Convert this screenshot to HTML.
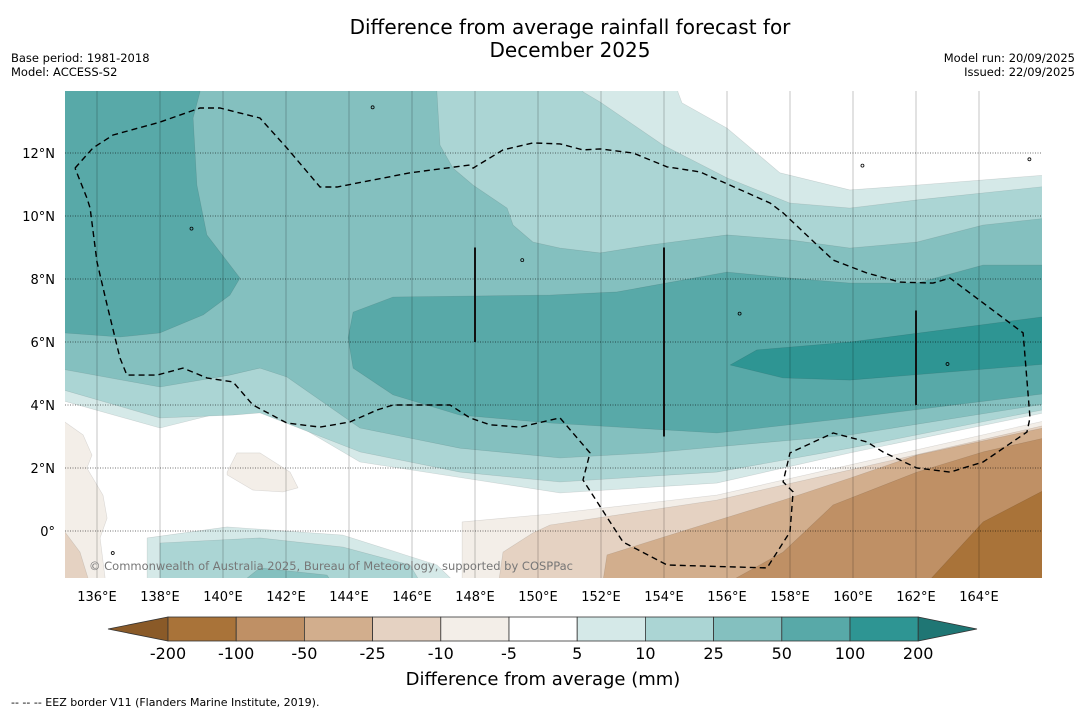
<!DOCTYPE html>
<html><head><meta charset="utf-8">
<style>
html,body{margin:0;padding:0;background:#fff;}
body{width:1085px;height:713px;overflow:hidden;font-family:"DejaVu Sans","Liberation Sans",sans-serif;}
svg text{font-family:"DejaVu Sans","Liberation Sans",sans-serif;}
</style></head>
<body>
<svg id="chart" width="1085" height="713" viewBox="0 0 1085 713" xmlns="http://www.w3.org/2000/svg">
<defs><clipPath id="mapclip"><rect x="65" y="91" width="977" height="487"/></clipPath></defs>
<text x="570" y="34" font-size="20" text-anchor="middle" fill="#000">Difference from average rainfall forecast for</text>
<text x="570" y="57" font-size="20" text-anchor="middle" fill="#000">December 2025</text>
<text x="11" y="62" font-size="11.5" fill="#000">Base period: 1981-2018</text>
<text x="11" y="76" font-size="11.5" fill="#000">Model: ACCESS-S2</text>
<text x="1075" y="62" font-size="11.5" text-anchor="end" fill="#000">Model run: 20/09/2025</text>
<text x="1075" y="76" font-size="11.5" text-anchor="end" fill="#000">Issued: 22/09/2025</text>
<g id="map" clip-path="url(#mapclip)"></g>
<g id="grid" clip-path="url(#mapclip)"></g>
<g id="overlay" clip-path="url(#mapclip)"></g>
<g id="axes"></g>
<text x="89" y="570" font-size="11.3" fill="#777" textLength="484" lengthAdjust="spacingAndGlyphs">© Commonwealth of Australia 2025, Bureau of Meteorology, supported by COSPPac</text>
<g id="cbar"></g>
<text x="543" y="685" font-size="18" text-anchor="middle" fill="#000">Difference from average (mm)</text>
<text x="11" y="706" font-size="11" fill="#000">--  --  -- EEZ border V11 (Flanders Marine Institute, 2019).</text>
</svg>
<script>
// ---- data ----
const lonTicks = [136,138,140,142,144,146,148,150,152,154,156,158,160,162,164];
const latTicks = [0,2,4,6,8,10,12];
const levelLabels = ["-200","-100","-50","-25","-10","-5","5","10","25","50","100","200"];
const levelColors = ["#a97339","#bf9065","#d2ae8d","#e5d2c2","#f3eee8","#ffffff","#d5e9e8","#abd5d4","#84c0bf","#58a9a8","#2e9593"];
const lowColor = "#8a5a28";
const highColor = "#1f7674";

const c5 = [[134.5,14.5],[154.44,14.5],[154.44,13.94],[154.57,13.59],[156,12.79],[157.68,11.37],[159.9,10.83],[162.03,10.98],[166.5,11.33],[166.5,3.84],[159.9,2.48],[155.68,1.52],[150.7,1.21],[144.35,2.19],[141.17,4.06],[138,3.27],[134.5,4.25]];
const c10 = [[134.5,14.5],[151.43,14.5],[151.43,13.94],[151.97,13.62],[153.97,12.25],[156,11.21],[158,10.41],[159.9,10.25],[162.03,10.51],[166.5,10.98],[166.5,3.94],[159.9,2.63],[155.68,1.87],[150.7,1.56],[147.52,1.87],[144.35,2.51],[141.17,3.75],[140.32,3.68],[138,3.59],[134.5,4.6]];
const c25 = [[134.5,14.5],[146.79,14.5],[146.79,13.94],[146.89,12.25],[147.3,11.52],[147.94,10.98],[149.02,10.25],[149.21,9.71],[149.84,9.17],[150.7,8.98],[151.97,8.83],[153.56,9.08],[156,9.4],[158,9.24],[159.9,8.98],[162.03,9.17],[164.13,9.71],[166.5,9.97],[166.5,4.1],[159.9,3.05],[153.56,2.48],[150.7,2.32],[147.52,2.63],[144.35,3.27],[142.03,4.89],[141.17,5.17],[140.22,4.95],[138,4.57],[134.5,5.21]];
const c50a = [[134.5,14.5],[139.27,14.5],[139.27,13.94],[139.05,13.11],[139.17,10.98],[139.49,9.4],[140.54,8.03],[140.22,7.49],[139.37,6.86],[138,6.29],[136.73,6.16],[134.5,6.32]];
const c50b = [[166.5,8.44],[164.13,8.44],[162.03,7.87],[159.9,7.87],[158,8.03],[156,8.22],[152.51,7.59],[150.38,7.49],[145.4,7.43],[144.13,6.95],[143.97,6.13],[144.13,5.17],[145.4,4.32],[147.52,3.68],[150.38,3.43],[155.68,3.11],[159.9,3.59],[166.5,4.41]];
const c100 = [[156.1,5.27],[156.95,5.75],[159.9,6],[166.5,6.86],[166.5,5.33],[159.9,4.79],[157.78,4.86]];
const b5 = [[137.59,-2],[137.59,-0.22],[140.13,0.13],[143.81,-0.13],[146.79,-1.08],[147.75,-2]];
const b10 = [[138,-2],[138,-0.38],[141.17,-0.22],[143.81,-0.51],[145.94,-1.08],[146.48,-2]];
const b25 = [[140.13,-2],[141.17,-1.17],[143.3,-1.4],[143.71,-2]];
const lm5 = [[134.5,4],[134.98,3.46],[135.56,3.05],[135.84,2.41],[135.68,2],[136.19,1.14],[136.32,0.41],[136.1,-0.22],[136.32,-2],[134.5,-2]];
const lm10 = [[134.5,0],[134.98,-0.03],[135.46,-0.67],[135.87,-2],[134.5,-2]];
const mm5 = [[140.13,1.87],[140.44,2.48],[141.17,2.48],[142.13,1.87],[142.38,1.37],[141.9,1.24],[140.95,1.3],[140.13,1.78]];
const rm5 = [[147.59,-2],[147.59,0.29],[150.38,0.54],[155.68,1.14],[159.9,2.1],[166.5,3.59],[166.5,-2]];
const rm10 = [[148.7,-2],[148.89,-0.67],[149.84,-0.06],[150.38,0.19],[155.68,0.98],[159.9,1.94],[166.5,3.45],[166.5,-2]];
const rm25 = [[152,-2],[152.19,-0.76],[154.6,0],[157.78,0.98],[159.9,1.68],[162.03,2.41],[166.5,3.37],[166.5,-2]];
const rm50 = [[155.37,-2],[157.78,-0.67],[159.37,0.83],[162.03,1.87],[164.13,2.51],[166.5,3.05],[166.5,-2]];
const rm100 = [[162.03,-2],[164.13,0.29],[166.5,1.52],[166.5,-2]];
const eez = [[135.3,11.52],[135.87,12.16],[136.51,12.57],[138,12.98],[139.27,13.43],[139.9,13.43],[141.17,13.11],[142.03,12.16],[143.08,10.92],[143.62,10.92],[145.94,11.37],[147.84,11.62],[147.94,11.52],[148.89,12.1],[149.84,12.32],[150.7,12.29],[151.43,12.1],[151.97,12.13],[153.02,12],[154.1,11.56],[155.14,11.4],[155.87,11.08],[157.37,10.41],[157.78,10.1],[159.37,8.6],[160.44,8.19],[161.49,7.9],[162.54,7.87],[163.08,8.03],[165.4,6.29],[165.62,3.59],[165.52,3.14],[164.13,2.19],[163.08,1.87],[162.03,2],[160.95,2.51],[160.44,2.83],[159.37,3.11],[158,2.48],[157.78,1.56],[158.1,1.24],[158,-0.03],[157.27,-1.17],[154.1,-1.08],[152.7,-0.35],[151.43,1.62],[151.65,2.48],[150.7,3.59],[149.43,3.3],[148.48,3.37],[147.84,3.59],[147.21,4],[145.4,4],[144.89,3.84],[144.03,3.46],[143.08,3.3],[142.03,3.43],[140.95,4],[140.32,4.73],[139.49,4.86],[138.73,5.17],[137.9,4.95],[136.95,4.95],[136.73,5.49],[136.32,7.17],[136,8.54],[135.78,10.25],[135.68,10.57],[135.3,11.52]];
const boundaryLines = [[148,6,9],[154,3,9],[162,4,7]];
const islands = [[144.75,13.45],[139.0,9.6],[149.5,8.6],[156.4,6.9],[163.0,5.3],[160.3,11.6],[165.6,11.8],[136.5,-0.7]];
const regions = [[6,c5],[7,c10],[8,c25],[9,c50a],[9,c50b],[10,c100],[6,b5],[7,b10],[8,b25],[4,lm5],[3,lm10],[4,mm5],[4,rm5],[3,rm10],[2,rm25],[1,rm50],[0,rm100]];

// ---- axis functions ----
const X = lon => 97 + (lon - 136) * 31.5;
const Y = lat => 531 - lat * 31.5;
const NS = "http://www.w3.org/2000/svg";
function mk(tag, attrs, parent){const e=document.createElementNS(NS,tag);for(const k in attrs)e.setAttribute(k,attrs[k]);parent.appendChild(e);return e;}
const pts = arr => arr.map(p => X(p[0]).toFixed(1)+","+Y(p[1]).toFixed(1)).join(" ");

const map = document.getElementById("map");
const bg = mk("rect",{x:65,y:91,width:977,height:487,fill:"#fff"},map);


regions.forEach((r,i) => {
  const p = mk("polygon",{points:pts(r[1]),fill:levelColors[r[0]],stroke:"rgba(0,0,0,0.12)","stroke-width":0.6,"stroke-linejoin":"round"},map);
  
  
});

const grid = document.getElementById("grid");
lonTicks.forEach(l => {
  const ln = mk("line",{x1:X(l),x2:X(l),y1:91,y2:578,stroke:"rgba(0,0,0,0.25)","stroke-width":0.9},grid);
  
  
});
latTicks.forEach(l => {
  const ln = mk("line",{x1:65,x2:1042,y1:Y(l),y2:Y(l),stroke:"rgba(0,0,0,0.55)","stroke-width":0.9,"stroke-dasharray":"1,1.5"},grid);
  
  
});

const ov = document.getElementById("overlay");
const ez = mk("polyline",{points:pts(eez),fill:"none",stroke:"#000","stroke-width":1.4,"stroke-dasharray":"6,4"},ov);


boundaryLines.forEach(b => {
  const ln = mk("line",{x1:X(b[0]),x2:X(b[0]),y1:Y(b[2]),y2:Y(b[1]),stroke:"#111","stroke-width":2},ov);
  
  
});
islands.forEach((s,i) => {
  const c = mk("circle",{cx:X(s[0]),cy:Y(s[1]),r:1.5,fill:"none",stroke:"#000","stroke-width":0.8},ov);
  
  
});

const axes = document.getElementById("axes");
lonTicks.forEach(l => {
  const t = mk("text",{x:X(l),y:601,"font-size":13,"text-anchor":"middle",fill:"#000"},axes);
  t.textContent = l + "°E";
  
  
});
latTicks.forEach(l => {
  const t = mk("text",{x:55,y:Y(l)+5,"font-size":13,"text-anchor":"end",fill:"#000"},axes);
  t.textContent = l === 0 ? "0°" : l + "°N";
  
  
});

const cb = document.getElementById("cbar");
const cx0 = 168, cw = 68.2, cy0 = 617, ch = 24;
const lt = mk("polygon",{points:`108,${cy0+ch/2} ${cx0},${cy0} ${cx0},${cy0+ch}`,fill:lowColor,stroke:"#333","stroke-width":0.8},cb);


levelColors.forEach((c,i) => {
  const r = mk("rect",{x:cx0+i*cw,y:cy0,width:cw,height:ch,fill:c,stroke:"#333","stroke-width":0.8},cb);
  
  
});
const hx = cx0 + levelColors.length*cw;
const ht = mk("polygon",{points:`${hx},${cy0} 977,${cy0+ch/2} ${hx},${cy0+ch}`,fill:highColor,stroke:"#333","stroke-width":0.8},cb);


levelLabels.forEach((l,i) => {
  const t = mk("text",{x:cx0+i*cw,y:659,"font-size":16,"text-anchor":"middle",fill:"#000"},cb);
  t.textContent = l;
  
  
});
</script>
</body></html>
